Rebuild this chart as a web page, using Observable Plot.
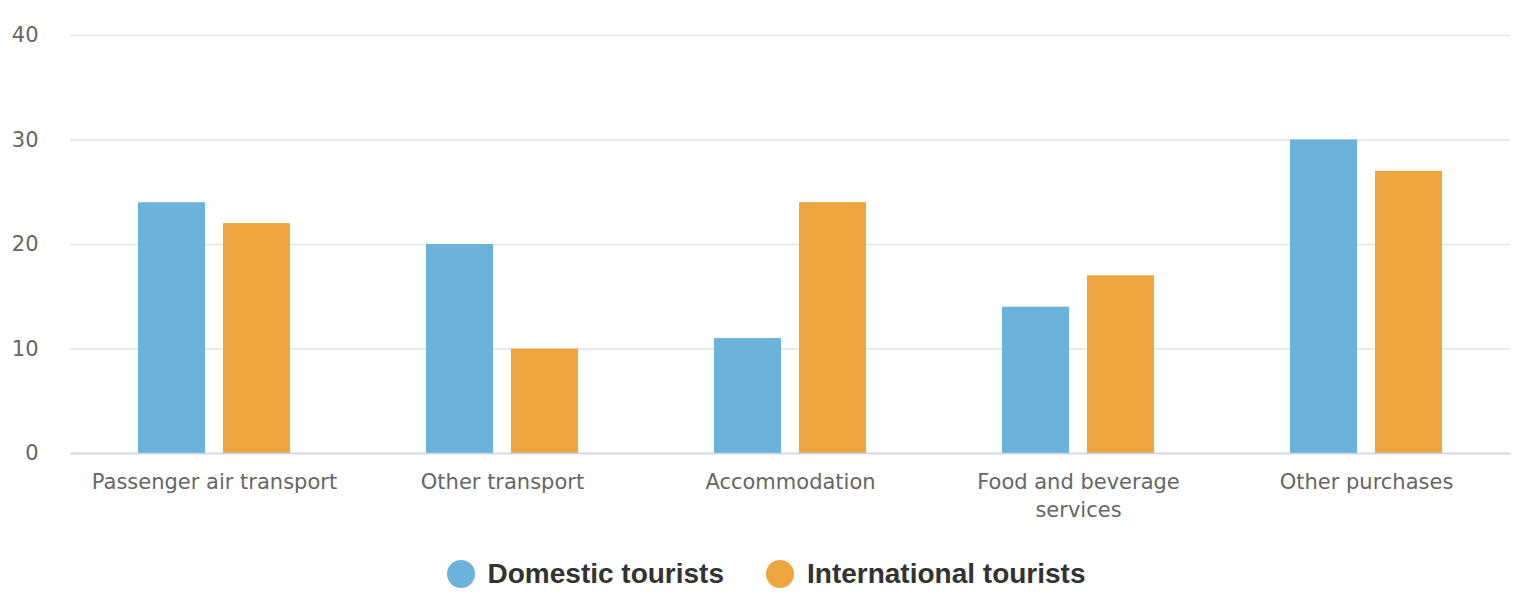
<!DOCTYPE html>
<html>
<head>
<meta charset="utf-8">
<script src="https://cdn.jsdelivr.net/npm/d3@7"></script>
<script src="https://cdn.jsdelivr.net/npm/@observablehq/plot@0.6"></script>
<style>
  html, body { margin: 0; padding: 0; background: #fff; }
  #legend { height: 88px; display: flex; justify-content: center; align-items: center;
    font-family: "Liberation Sans", Arial, sans-serif; font-weight: bold; font-size: 28px; color: #333; }
  .item { display: flex; align-items: center; }
  .item + .item { margin-left: 42px; }
  .dot { width: 28px; height: 28px; border-radius: 50%; margin-right: 13px; }
</style>
</head>
<body>
<div id="chart"></div>
<div id="legend"></div>
<script>
const categories = ["Passenger air transport", "Other transport", "Accommodation", "Food and beverage services", "Other purchases"];
const tickLabels = ["Passenger air transport", "Other transport", "Accommodation", "Food and beverage\nservices", "Other purchases"];
const series = ["Domestic tourists", "International tourists"];
const domestic = [24, 20, 11, 14, 30];
const international = [22, 10, 24, 17, 27];
const yTicks = [0, 10, 20, 30, 40];
const colors = ["#6bb3db", "#eea53f"];

const table = [];
categories.forEach((c, i) => {
  table.push({category: c, series: series[0], value: domestic[i]});
  table.push({category: c, series: series[1], value: international[i]});
});

const chart = Plot.plot({
  width: 1532,
  height: 530,
  marginLeft: 70,
  marginRight: 22,
  marginTop: 35,
  marginBottom: 77,
  style: {fontFamily: "DejaVu Sans, sans-serif", background: "#fff", color: "#666"},
  fx: {domain: categories, padding: 0, label: null},
  x: {domain: series, paddingInner: 0.209, paddingOuter: 0.779, axis: null},
  y: {domain: [0, 40], label: null},
  color: {domain: series, range: colors},
  marks: [
    Plot.gridY({ticks: yTicks, stroke: "#e3e3e3", strokeOpacity: 1, strokeWidth: 1.5}),
    Plot.axisY({ticks: yTicks, tickSize: 0, tickPadding: 32, fontSize: 21, fill: "#666", label: null}),
    Plot.barY(table, {fx: "category", x: "series", y: "value", fill: "series", inset: 0}),
    Plot.ruleY([0], {stroke: "#ccd6eb", strokeWidth: 1.6}),
    Plot.axisFx({anchor: "bottom", tickSize: 0, tickPadding: 16, fontSize: 21, fill: "#666", label: null,
      lineHeight: 1.33, tickFormat: d => tickLabels[categories.indexOf(d)]})
  ]
});
document.getElementById("chart").appendChild(chart);

const legend = document.getElementById("legend");
series.forEach((s, i) => {
  const item = document.createElement("div");
  item.className = "item";
  const dot = document.createElement("div");
  dot.className = "dot";
  dot.style.background = colors[i];
  const label = document.createElement("span");
  label.textContent = s;
  item.appendChild(dot);
  item.appendChild(label);
  legend.appendChild(item);
});
</script>
</body>
</html>
